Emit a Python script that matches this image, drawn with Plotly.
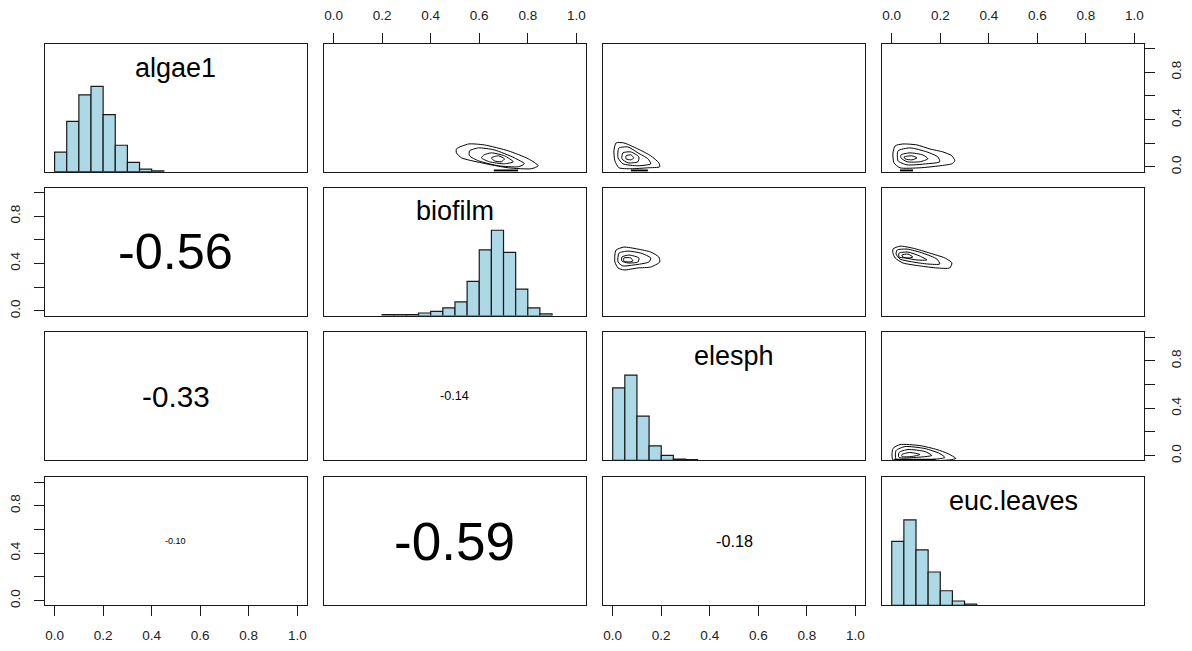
import plotly.graph_objects as go

# ---------------- data ----------------
variables = ["algae1", "biofilm", "elesph", "euc.leaves"]

bin_width = 0.05
hist_start = [0.0, 0.20, 0.0, 0.0]
hist_algae1 = [0.23, 0.59, 0.90, 1.0, 0.67, 0.31, 0.11, 0.03, 0.01]
hist_biofilm = [0.01, 0.01, 0.01, 0.03, 0.05, 0.09, 0.16, 0.40, 0.77, 1.0, 0.74, 0.31, 0.09, 0.02]
hist_elesph = [0.85, 1.0, 0.52, 0.17, 0.06, 0.015, 0.01]
hist_euc = [0.75, 1.0, 0.65, 0.39, 0.17, 0.05, 0.015]
hists = [hist_algae1, hist_biofilm, hist_elesph, hist_euc]

# correlations (row, col, r) for lower panels
cor_rows = [2, 3, 3, 4, 4, 4]
cor_cols = [1, 1, 2, 1, 2, 3]
cor_vals = [-0.56, -0.33, -0.14, -0.10, -0.59, -0.18]

# contour loops (x list, y list) per upper panel
contour_1_2 = [
    ([0.506, 0.556, 0.621, 0.720, 0.802, 0.843, 0.814, 0.720, 0.609, 0.527, 0.506],
     [0.152, 0.194, 0.186, 0.136, 0.069, 0.010, -0.015, -0.007, 0.035, 0.077, 0.119]),
    ([0.560, 0.597, 0.662, 0.745, 0.786, 0.761, 0.679, 0.597, 0.560],
     [0.136, 0.161, 0.144, 0.077, 0.027, 0.002, 0.010, 0.052, 0.094]),
    ([0.620, 0.650, 0.704, 0.740, 0.704, 0.642, 0.609],
     [0.102, 0.119, 0.094, 0.044, 0.027, 0.044, 0.077]),
    ([0.650, 0.679, 0.704, 0.691, 0.662],
     [0.077, 0.094, 0.069, 0.044, 0.052]),
]
contour_1_3 = [
    ([0.014, 0.046, 0.104, 0.157, 0.190, 0.194, 0.145, 0.075, 0.026, 0.009, 0.005],
     [0.203, 0.203, 0.152, 0.094, 0.035, 0.002, -0.007, -0.015, -0.007, 0.052, 0.136]),
    ([0.026, 0.063, 0.104, 0.145, 0.157, 0.104, 0.042, 0.022, 0.022],
     [0.161, 0.169, 0.119, 0.069, 0.027, 0.010, 0.027, 0.077, 0.136]),
    ([0.042, 0.075, 0.108, 0.104, 0.063, 0.038],
     [0.119, 0.127, 0.085, 0.044, 0.035, 0.069]),
    ([0.055, 0.075, 0.087, 0.075, 0.055],
     [0.094, 0.102, 0.077, 0.060, 0.069]),
]
contour_1_4 = [
    ([0.014, 0.046, 0.104, 0.157, 0.211, 0.248, 0.260, 0.248, 0.198, 0.116, 0.034, 0.009, 0.005],
     [0.178, 0.194, 0.186, 0.152, 0.127, 0.094, 0.052, 0.027, 0.010, -0.007, -0.007, 0.035, 0.119]),
    ([0.026, 0.075, 0.145, 0.190, 0.198, 0.145, 0.063, 0.026],
     [0.136, 0.161, 0.127, 0.085, 0.044, 0.027, 0.018, 0.052]),
    ([0.038, 0.075, 0.128, 0.149, 0.116, 0.063, 0.038],
     [0.102, 0.119, 0.102, 0.069, 0.044, 0.044, 0.077]),
    ([0.051, 0.083, 0.104, 0.083, 0.055],
     [0.085, 0.094, 0.077, 0.060, 0.069]),
]
contour_2_3 = [
    ([0.014, 0.046, 0.104, 0.157, 0.190, 0.194, 0.157, 0.104, 0.046, 0.022, 0.009, 0.009],
     [0.513, 0.538, 0.521, 0.496, 0.454, 0.412, 0.370, 0.362, 0.345, 0.362, 0.412, 0.471]),
    ([0.026, 0.063, 0.116, 0.157, 0.149, 0.087, 0.042, 0.022],
     [0.487, 0.504, 0.487, 0.446, 0.412, 0.387, 0.379, 0.412]),
    ([0.038, 0.067, 0.108, 0.104, 0.063, 0.038],
     [0.454, 0.471, 0.446, 0.412, 0.404, 0.420]),
    ([0.046, 0.075, 0.083, 0.063, 0.046],
     [0.446, 0.446, 0.420, 0.412, 0.420]),
]
contour_2_4 = [
    ([0.005, 0.034, 0.087, 0.157, 0.219, 0.248, 0.239, 0.186, 0.116, 0.046, 0.014, 0.005],
     [0.521, 0.546, 0.529, 0.487, 0.446, 0.404, 0.362, 0.362, 0.379, 0.404, 0.446, 0.487]),
    ([0.022, 0.063, 0.128, 0.186, 0.198, 0.149, 0.087, 0.034, 0.018],
     [0.513, 0.521, 0.487, 0.437, 0.395, 0.395, 0.412, 0.437, 0.479]),
    ([0.030, 0.067, 0.116, 0.145, 0.104, 0.055, 0.030],
     [0.487, 0.496, 0.462, 0.429, 0.429, 0.446, 0.454]),
    ([0.042, 0.067, 0.087, 0.067, 0.046],
     [0.471, 0.479, 0.454, 0.446, 0.454]),
]
contour_3_4 = [
    ([0.005, 0.034, 0.116, 0.186, 0.231, 0.264, 0.239, 0.005],
     [0.060, 0.094, 0.085, 0.052, 0.018, -0.023, -0.035, -0.035]),
    ([0.018, 0.055, 0.137, 0.198, 0.219, 0.178, 0.018],
     [0.044, 0.077, 0.060, 0.018, -0.015, -0.030, -0.030]),
    ([0.030, 0.067, 0.137, 0.165, 0.096, 0.030],
     [0.027, 0.052, 0.035, 0.002, -0.015, -0.015]),
    ([0.042, 0.075, 0.116, 0.083, 0.042],
     [0.010, 0.027, 0.010, -0.007, -0.007]),
]
contours = {(1, 2): contour_1_2, (1, 3): contour_1_3, (1, 4): contour_1_4,
            (2, 3): contour_2_3, (2, 4): contour_2_4, (3, 4): contour_3_4}
# dark clipped contour pieces along the panel bottom (x from, x to, y)
bottom_bits = {(1, 2): ([0.66, 0.76], -0.03), (1, 3): ([0.075, 0.145], -0.03),
               (1, 4): ([0.034, 0.088], -0.03), (3, 4): ([0.01, 0.18], -0.034)}

tick_vals = [0.0, 0.2, 0.4, 0.6, 0.8, 1.0]
x_tick_text = ["0.0", "0.2", "0.4", "0.6", "0.8", "1.0"]
y_tick_text = ["0.0", "", "0.4", "", "0.8", ""]

# ---------------- layout geometry ----------------
# page body has an 8px margin, so the figure is 16px smaller than the window
OFF = 8
W, H = 1192 - 2 * OFF, 651 - 2 * OFF
col_left = [42, 322, 602, 882]
row_top = [42, 187, 333, 479]
pw, ph = 263, 129
FONT = "Arial, 'Liberation Sans', sans-serif"
LINE = "#1a1a1a"

def sfx(k):
    return "" if k == 1 else str(k)

fig = go.Figure()
layout = dict(width=W, height=H, margin=dict(l=0, r=0, t=0, b=0),
              paper_bgcolor="white", plot_bgcolor="white", showlegend=False,
              font=dict(family=FONT, color="black"))
annotations = []

for r in range(1, 5):
    for c in range(1, 5):
        k = (r - 1) * 4 + c
        s = sfx(k)
        x0 = col_left[c - 1] - OFF
        y0 = row_top[r - 1] - OFF
        xd = [x0 / W, (x0 + pw) / W]
        yd = [1 - (y0 + ph) / H, 1 - y0 / H]
        xa = dict(domain=xd, range=[-0.04, 1.04], anchor="y" + s, showgrid=False,
                  zeroline=False, showline=True, mirror=True, linecolor=LINE,
                  linewidth=1.4, showticklabels=False, ticks="", fixedrange=True)
        yr = [0, 1.5] if r == c else [-0.04, 1.04]
        ya = dict(domain=yd, range=yr, anchor="x" + s, showgrid=False,
                  zeroline=False, showline=True, mirror=True, linecolor=LINE,
                  linewidth=1.4, showticklabels=False, ticks="", fixedrange=True)
        tick_common = dict(ticks="outside", ticklen=9.5, tickwidth=1.3, tickcolor=LINE,
                           showticklabels=True, tickvals=tick_vals,
                           tickfont=dict(size=13.5, color="#222", family=FONT))
        if r == 1 and c in (2, 4):
            xa.update(tick_common, side="top", ticktext=x_tick_text, ticklabelstandoff=8)
        if r == 4 and c in (1, 3):
            xa.update(tick_common, side="bottom", ticktext=x_tick_text, ticklabelstandoff=8)
        if c == 1 and r in (2, 4):
            ya.update(tick_common, side="left", ticktext=y_tick_text, tickangle=-90,
                      ticklabelstandoff=9)
        if c == 4 and r in (1, 3):
            ya.update(tick_common, side="right", ticktext=y_tick_text, tickangle=-90,
                      ticklabelstandoff=10)
        layout["xaxis" + s] = xa
        layout["yaxis" + s] = ya

        if r == c:
            h = hists[r - 1]
            xs = [hist_start[r - 1] + bin_width * (i + 0.5) for i in range(len(h))]
            fig.add_trace(go.Bar(x=xs, y=h, width=bin_width, xaxis="x" + s, yaxis="y" + s,
                                 marker=dict(color="#ADD8E6", line=dict(color=LINE, width=1.2)),
                                 hoverinfo="skip"))
            annotations.append(dict(x=0.5, y=1.22, xref="x" + s, yref="y" + s,
                                    text=variables[r - 1], showarrow=False,
                                    font=dict(size=27, color="black", family=FONT)))
        elif r < c:
            for lx, ly in contours[(r, c)]:
                fig.add_trace(go.Scatter(x=lx + [lx[0]], y=ly + [ly[0]], mode="lines",
                                         xaxis="x" + s, yaxis="y" + s,
                                         line=dict(color="black", width=1, shape="spline",
                                                   smoothing=0.6),
                                         hoverinfo="skip"))
            if (r, c) in bottom_bits:
                bx, by = bottom_bits[(r, c)]
                fig.add_trace(go.Scatter(x=bx, y=[by, by], mode="lines",
                                         xaxis="x" + s, yaxis="y" + s,
                                         line=dict(color="black", width=2),
                                         hoverinfo="skip"))

for rr, cc, v in zip(cor_rows, cor_cols, cor_vals):
    s = sfx((rr - 1) * 4 + cc)
    annotations.append(dict(x=0.5, y=0.5, xref="x" + s, yref="y" + s,
                            text=f"{v:.2f}", showarrow=False,
                            font=dict(size=90 * abs(v), color="black", family=FONT)))

layout["annotations"] = annotations
fig.update_layout(**layout)
fig.write_html("out.html")
